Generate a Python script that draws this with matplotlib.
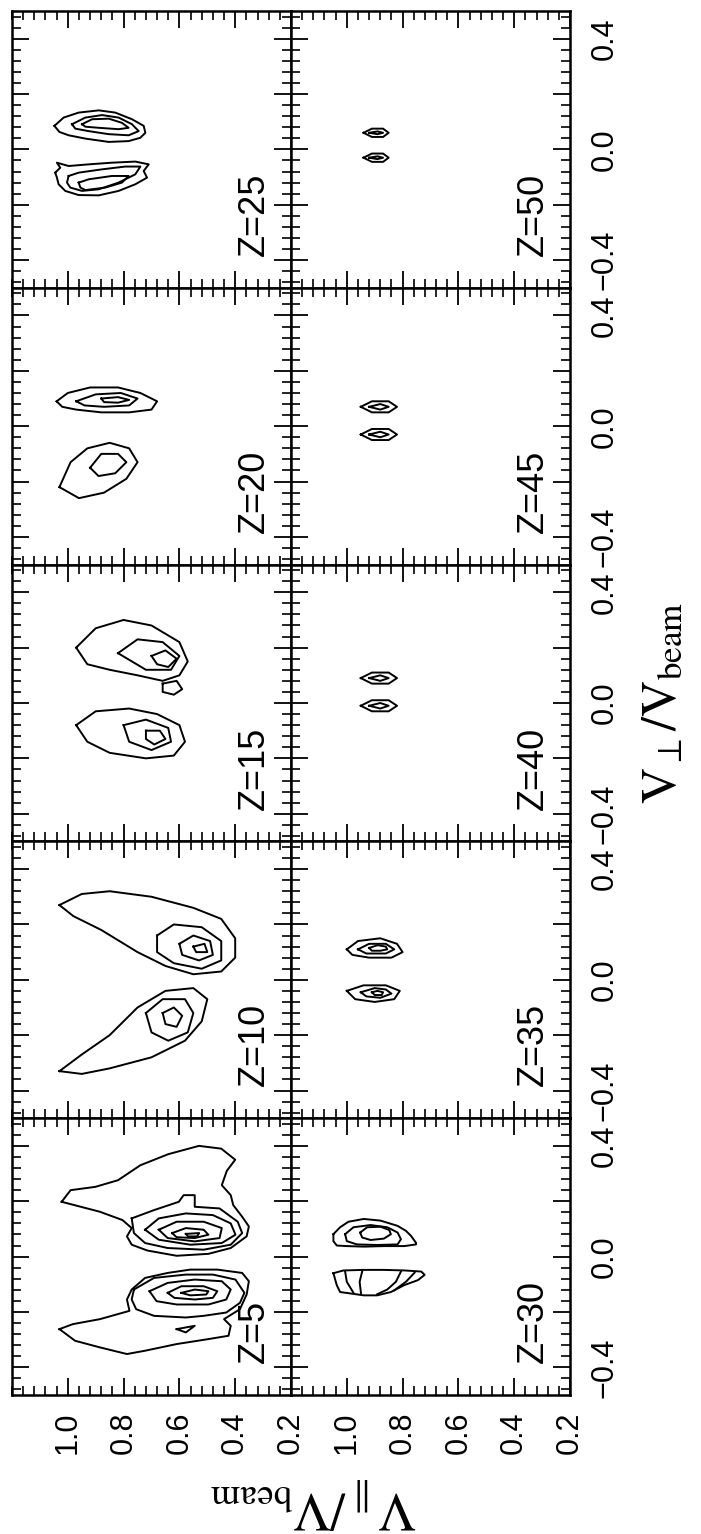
import matplotlib
matplotlib.use('Agg')
import matplotlib.pyplot as plt
from matplotlib.ticker import MultipleLocator

plt.rcParams['font.family'] = ['Liberation Sans', 'DejaVu Sans']
plt.rcParams['mathtext.fontset'] = 'stix'

# contours per panel, points are (V_par, V_perp)
z5 = [
    [(1.022, 0.198), (0.99, 0.24), (0.901, 0.252), (0.820, 0.276), (0.74, 0.33), (0.64, 0.37), (0.53, 0.40), (0.45, 0.39),
     (0.40, 0.35), (0.43, 0.31), (0.448, 0.258), (0.416, 0.222), (0.407, 0.186), (0.375, 0.144), (0.351, 0.109),
     (0.359, 0.073), (0.416, 0.031), (0.496, 0.010), (0.610, 0.003), (0.715, 0.022), (0.771, 0.043), (0.788, 0.073),
     (0.771, 0.103), (0.804, 0.132), (0.885, 0.162)],
    [(0.771, 0.138), (0.691, 0.168), (0.602, 0.198), (0.585, 0.222), (0.545, 0.222), (0.545, 0.180), (0.456, 0.174),
     (0.391, 0.126), (0.375, 0.085), (0.416, 0.043), (0.513, 0.025), (0.642, 0.031), (0.723, 0.049), (0.763, 0.085)],
    [(0.723, 0.097), (0.674, 0.138), (0.577, 0.156), (0.480, 0.150), (0.416, 0.120), (0.399, 0.079), (0.448, 0.049),
     (0.561, 0.043), (0.674, 0.061)],
    [(0.674, 0.097), (0.610, 0.126), (0.513, 0.126), (0.448, 0.103), (0.456, 0.067), (0.545, 0.055), (0.642, 0.067)],
    [(0.626, 0.085), (0.577, 0.103), (0.513, 0.097), (0.496, 0.079), (0.545, 0.067), (0.610, 0.070)],
    [(0.577, 0.082), (0.529, 0.085), (0.537, 0.073), (0.569, 0.073)],
    [(1.030, -0.262), (0.974, -0.304), (0.885, -0.328), (0.788, -0.352), (0.723, -0.340), (0.610, -0.316),
     (0.496, -0.298), (0.424, -0.286), (0.416, -0.250), (0.440, -0.226), (0.383, -0.190), (0.359, -0.137),
     (0.351, -0.089), (0.375, -0.059), (0.464, -0.047), (0.561, -0.047), (0.642, -0.059), (0.723, -0.077),
     (0.771, -0.119), (0.788, -0.155), (0.779, -0.196), (0.885, -0.226), (0.982, -0.244)],
    [(0.763, -0.119), (0.691, -0.077), (0.577, -0.065), (0.480, -0.065), (0.399, -0.083), (0.367, -0.131),
     (0.383, -0.167), (0.432, -0.202), (0.513, -0.214), (0.577, -0.220), (0.691, -0.214), (0.755, -0.190),
     (0.771, -0.155)],
    [(0.707, -0.125), (0.642, -0.095), (0.545, -0.083), (0.448, -0.089), (0.416, -0.119), (0.432, -0.155),
     (0.496, -0.173), (0.610, -0.173), (0.682, -0.161)],
    [(0.642, -0.131), (0.593, -0.107), (0.513, -0.107), (0.464, -0.125), (0.480, -0.149), (0.545, -0.155),
     (0.618, -0.149)],
    [(0.593, -0.131), (0.545, -0.119), (0.496, -0.125), (0.504, -0.137), (0.561, -0.140)],
    [(0.610, -0.262), (0.545, -0.250), (0.577, -0.274)],
]
z10 = [
    [(1.03, 0.27), (0.95, 0.31), (0.85, 0.32), (0.70, 0.30), (0.55, 0.26), (0.45, 0.22), (0.40, 0.15), (0.40, 0.08),
     (0.45, 0.03), (0.55, 0.02), (0.65, 0.05), (0.75, 0.10), (0.88, 0.18), (0.98, 0.23)],
    [(0.68, 0.16), (0.62, 0.20), (0.52, 0.19), (0.45, 0.14), (0.45, 0.07), (0.52, 0.04), (0.62, 0.06), (0.68, 0.10)],
    [(0.60, 0.13), (0.55, 0.16), (0.49, 0.14), (0.48, 0.09), (0.53, 0.07), (0.59, 0.09)],
    [(0.55, 0.12), (0.51, 0.13), (0.50, 0.10), (0.54, 0.10)],
    [(1.03, -0.33), (0.95, -0.27), (0.85, -0.20), (0.75, -0.10), (0.65, -0.04), (0.55, -0.03), (0.50, -0.07),
     (0.52, -0.15), (0.58, -0.22), (0.70, -0.28), (0.85, -0.32), (0.95, -0.34)],
    [(0.72, -0.12), (0.66, -0.07), (0.58, -0.07), (0.55, -0.12), (0.57, -0.19), (0.64, -0.22), (0.70, -0.19)],
    [(0.66, -0.12), (0.62, -0.10), (0.59, -0.13), (0.61, -0.17), (0.65, -0.16)],
]
z15 = [
    [(0.97, 0.20), (0.90, 0.27), (0.80, 0.30), (0.70, 0.28), (0.60, 0.22), (0.57, 0.15), (0.60, 0.10), (0.66, 0.08),
     (0.75, 0.10), (0.85, 0.12), (0.93, 0.14)],
    [(0.82, 0.18), (0.75, 0.23), (0.66, 0.22), (0.60, 0.17), (0.63, 0.12), (0.72, 0.12)],
    [(0.70, 0.17), (0.65, 0.19), (0.61, 0.16), (0.64, 0.13), (0.68, 0.14)],
    [(0.66, 0.07), (0.61, 0.08), (0.59, 0.05), (0.62, 0.03), (0.66, 0.04)],
    [(0.97, -0.08), (0.90, -0.03), (0.78, -0.02), (0.68, -0.04), (0.60, -0.08), (0.58, -0.14), (0.62, -0.19),
     (0.72, -0.20), (0.85, -0.18), (0.93, -0.14)],
    [(0.80, -0.08), (0.72, -0.06), (0.64, -0.09), (0.63, -0.14), (0.70, -0.17), (0.78, -0.14)],
    [(0.72, -0.10), (0.67, -0.10), (0.65, -0.13), (0.69, -0.15), (0.72, -0.13)],
]
z20 = [
    [(1.04, 0.09), (1.0, 0.12), (0.92, 0.14), (0.82, 0.14), (0.74, 0.12), (0.68, 0.09), (0.70, 0.06), (0.78, 0.05),
     (0.88, 0.05), (0.97, 0.06), (1.02, 0.07)],
    [(0.97, 0.09), (0.90, 0.115), (0.81, 0.12), (0.75, 0.10), (0.78, 0.075), (0.87, 0.07), (0.94, 0.075)],
    [(0.88, 0.10), (0.82, 0.105), (0.78, 0.095), (0.82, 0.085), (0.87, 0.087)],
    [(1.03, -0.22), (0.99, -0.13), (0.93, -0.08), (0.85, -0.06), (0.78, -0.08), (0.75, -0.13), (0.79, -0.19),
     (0.87, -0.24), (0.96, -0.26)],
    [(0.92, -0.15), (0.88, -0.10), (0.82, -0.10), (0.79, -0.13), (0.83, -0.17), (0.89, -0.18)],
]
z25 = [
    [(1.048, 0.085), (1.015, 0.115), (0.961, 0.133), (0.889, 0.141), (0.830, 0.133), (0.770, 0.109), (0.728, 0.085),
     (0.722, 0.060), (0.740, 0.042), (0.782, 0.030), (0.853, 0.027), (0.937, 0.039), (0.997, 0.051), (1.030, 0.063)],
    [(0.985, 0.091), (0.937, 0.115), (0.877, 0.124), (0.818, 0.115), (0.770, 0.091), (0.746, 0.066), (0.782, 0.051),
     (0.853, 0.055), (0.925, 0.066), (0.973, 0.075)],
    [(0.949, 0.091), (0.913, 0.109), (0.853, 0.111), (0.806, 0.096), (0.782, 0.078), (0.818, 0.073), (0.889, 0.078),
     (0.937, 0.082)],
    [(1.045, -0.084), (1.027, -0.066), (1.039, -0.048), (0.997, -0.060), (0.925, -0.054), (0.842, -0.048), (0.758, -0.044),
     (0.710, -0.054), (0.728, -0.078), (0.716, -0.102), (0.758, -0.126), (0.818, -0.150), (0.889, -0.166), (0.961, -0.165),
     (1.009, -0.150), (1.033, -0.126), (1.039, -0.102)],
    [(0.997, -0.096), (0.961, -0.084), (0.877, -0.072), (0.794, -0.062), (0.740, -0.062), (0.758, -0.090),
     (0.818, -0.120), (0.889, -0.144), (0.949, -0.150), (0.991, -0.138), (1.003, -0.120)],
    [(0.961, -0.120), (0.925, -0.108), (0.842, -0.096), (0.782, -0.096), (0.806, -0.120), (0.866, -0.138),
     (0.937, -0.147), (0.955, -0.138)],
]
z30 = [
    [(1.048, 0.081), (1.024, 0.106), (0.994, 0.126), (0.939, 0.136), (0.879, 0.130), (0.818, 0.111), (0.788, 0.093),
     (0.770, 0.075), (0.752, 0.050), (0.752, 0.044), (0.794, 0.038), (0.867, 0.038), (0.939, 0.036), (1.0, 0.038),
     (1.036, 0.040), (1.048, 0.056)],
    [(1.006, 0.081), (0.976, 0.106), (0.915, 0.114), (0.855, 0.106), (0.818, 0.087), (0.806, 0.063), (0.818, 0.044),
     (0.891, 0.042), (0.964, 0.044), (1.0, 0.056)],
    [(0.952, 0.087), (0.927, 0.106), (0.879, 0.108), (0.848, 0.096), (0.842, 0.081), (0.867, 0.065), (0.915, 0.060),
     (0.945, 0.069)],
    [(1.048, -0.060), (1.012, -0.050), (0.939, -0.048), (0.867, -0.048), (0.794, -0.050), (0.733, -0.054), (0.721, -0.066),
     (0.745, -0.085), (0.794, -0.103), (0.842, -0.128), (0.891, -0.140), (0.939, -0.140), (0.988, -0.133), (1.024, -0.128),
     (1.036, -0.103), (1.043, -0.078)],
]
z30_open = [
    [(1.006, -0.054), (1.0, -0.091), (0.976, -0.131)],
    [(0.945, -0.054), (0.954, -0.091), (0.949, -0.134)],
    [(0.806, -0.054), (0.824, -0.091), (0.855, -0.119), (0.891, -0.136)],
    [(0.757, -0.058), (0.788, -0.091), (0.830, -0.122)],
]
z35 = [
    [(1.0, 0.11), (0.96, 0.14), (0.88, 0.15), (0.82, 0.13), (0.80, 0.10), (0.84, 0.08), (0.92, 0.08), (0.98, 0.09)],
    [(0.96, 0.11), (0.92, 0.13), (0.86, 0.13), (0.83, 0.11), (0.86, 0.095), (0.93, 0.095)],
    [(0.92, 0.115), (0.89, 0.125), (0.86, 0.12), (0.855, 0.11), (0.88, 0.105), (0.91, 0.105)],
    [(1.0, -0.04), (0.94, -0.02), (0.86, -0.02), (0.81, -0.04), (0.83, -0.07), (0.90, -0.08), (0.97, -0.07)],
    [(0.95, -0.045), (0.90, -0.03), (0.86, -0.035), (0.84, -0.05), (0.88, -0.065), (0.93, -0.06)],
    [(0.91, -0.045), (0.89, -0.04), (0.87, -0.045), (0.875, -0.055), (0.90, -0.055)],
]
z40 = [
    [(0.95, 0.09), (0.91, 0.11), (0.85, 0.11), (0.82, 0.09), (0.85, 0.07), (0.91, 0.07)],
    [(0.92, 0.09), (0.88, 0.10), (0.85, 0.09), (0.88, 0.08)],
    [(0.95, -0.01), (0.91, 0.01), (0.85, 0.01), (0.82, -0.01), (0.85, -0.03), (0.91, -0.03)],
    [(0.92, -0.01), (0.88, 0.0), (0.85, -0.01), (0.88, -0.02)],
]
z45 = [
    [(0.95, 0.07), (0.91, 0.09), (0.85, 0.09), (0.82, 0.07), (0.85, 0.05), (0.91, 0.05)],
    [(0.92, 0.07), (0.88, 0.08), (0.85, 0.07), (0.88, 0.06)],
    [(0.95, -0.03), (0.91, -0.01), (0.85, -0.01), (0.82, -0.03), (0.85, -0.05), (0.91, -0.05)],
    [(0.92, -0.03), (0.88, -0.02), (0.85, -0.03), (0.88, -0.04)],
]
z50 = [
    [(0.94, 0.06), (0.91, 0.075), (0.87, 0.075), (0.85, 0.06), (0.87, 0.045), (0.91, 0.045)],
    [(0.92, 0.06), (0.89, 0.065), (0.87, 0.06), (0.89, 0.055)],
    [(0.94, -0.03), (0.91, -0.015), (0.87, -0.015), (0.85, -0.03), (0.87, -0.045), (0.91, -0.045)],
    [(0.92, -0.03), (0.89, -0.025), (0.87, -0.03), (0.89, -0.035)],
]

z_left = [25, 20, 15, 10, 5]
z_right = [50, 45, 40, 35, 30]
panels = {5: z5, 10: z10, 15: z15, 20: z20, 25: z25, 30: z30, 35: z35, 40: z40, 45: z45, 50: z50}
open_lines = {30: z30_open}

vpar_ticks = [0.2, 0.4, 0.6, 0.8, 1.0]
vperp_ticks = [-0.4, -0.2, 0.0, 0.2, 0.4]
vperp_labels = ['\u22120.4', '', '0.0', '', '0.4']

fig = plt.figure(figsize=(7.01, 15.34), dpi=100)
gs = fig.add_gridspec(5, 2, left=12 / 701, right=570 / 701, top=1 - 11 / 1534, bottom=1 - 1395 / 1534,
                      wspace=0, hspace=0)

for r in range(5):
    for c in range(2):
        ax = fig.add_subplot(gs[r, c])
        z = z_left[r] if c == 0 else z_right[r]
        for curve in panels[z]:
            xs = [p[0] for p in curve] + [curve[0][0]]
            ys = [p[1] for p in curve] + [curve[0][1]]
            ax.plot(xs, ys, color='black', lw=1.4)
        for line in open_lines.get(z, []):
            ax.plot([p[0] for p in line], [p[1] for p in line], color='black', lw=1.4)
        ax.set_xlim(1.2, 0.2)
        ax.set_ylim(-0.5, 0.5)
        ax.set_xticks(vpar_ticks, ['%.1f' % v for v in vpar_ticks])
        ax.set_yticks(vperp_ticks, vperp_labels)
        ax.xaxis.set_minor_locator(MultipleLocator(0.04))
        ax.yaxis.set_minor_locator(MultipleLocator(0.04))
        ax.tick_params(which='both', direction='in', top=True, bottom=True, left=True, right=True,
                       labelbottom=(r == 4), labelleft=False, labelright=(c == 1), labeltop=False)
        ax.tick_params(which='major', length=12, width=1.3)
        ax.tick_params(which='minor', length=6.5, width=1.2)
        ax.tick_params(axis='x', labelrotation=90, labelsize=22, pad=12)
        ax.tick_params(axis='y', labelrotation=90, labelsize=22, pad=14)
        for lab in ax.get_yticklabels():
            lab.set_verticalalignment('center')
        for s in ax.spines.values():
            s.set_linewidth(1.8)
        ax.text(0.33, -0.385, 'Z=%d' % z, rotation=90, ha='center', va='bottom', fontsize=26)

fig.text(662 / 701, 1 - 703 / 1534, r'$\mathrm{V}_{\perp}/\mathrm{V}_{\mathrm{beam}}$', rotation=90,
         ha='center', va='center', fontsize=36)
fig.text(314 / 701, 1 - 1503 / 1534, r'$\mathrm{V}_{\parallel}/\mathrm{V}_{\mathrm{beam}}$', rotation=180,
         ha='center', va='center', fontsize=38)

fig.savefig('out.png', dpi=100)
